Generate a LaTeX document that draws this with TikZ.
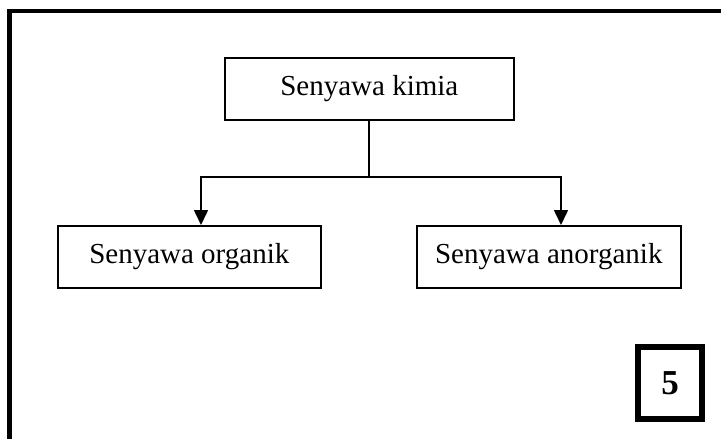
\documentclass[tikz,border=0pt]{standalone}
\usepackage{fontspec}
\setmainfont{Liberation Serif}
\usetikzlibrary{arrows.meta}
\begin{document}
\begin{tikzpicture}[x=1pt,y=-1pt,
  box/.style={draw=black, line width=1.6pt, minimum height=62pt, inner sep=0pt,
    font=\fontsize{29}{34}\selectfont, anchor=north west},
  link/.style={draw=black, line width=1.6pt},
  arr/.style={link, -{Triangle[length=15pt,width=14pt]}}]
\useasboundingbox (0,0) rectangle (721,439);
\fill[white] (0,0) rectangle (721,439);
% page frame (left and top edges)
\begin{scope}
\clip (0,0) rectangle (721,439);
\draw[line width=4.5pt] (9.5,450) -- (9.5,11) -- (730,11);
\end{scope}
% concept boxes
\node[box, minimum width=289pt] (top) at (224,57) {Senyawa kimia};
\node[box, minimum width=263pt] (org) at (57,225) {Senyawa organik};
\node[box, minimum width=264pt] (anorg) at (416,225) {Senyawa anorganik};
% connectors
\coordinate (split) at (369,177);
\draw[link] (top.south -| split) -- (split);
\draw[arr] (split) -| (org.north -| 201,0);
\draw[arr] (split) -| (anorg.north -| 561,0);
% page number
\node[draw=black, line width=6pt, minimum width=64pt, minimum height=72pt,
  inner sep=0pt, font=\fontsize{35}{40}\selectfont\bfseries] (num) at (670,383) {5};
\end{tikzpicture}
\end{document}
